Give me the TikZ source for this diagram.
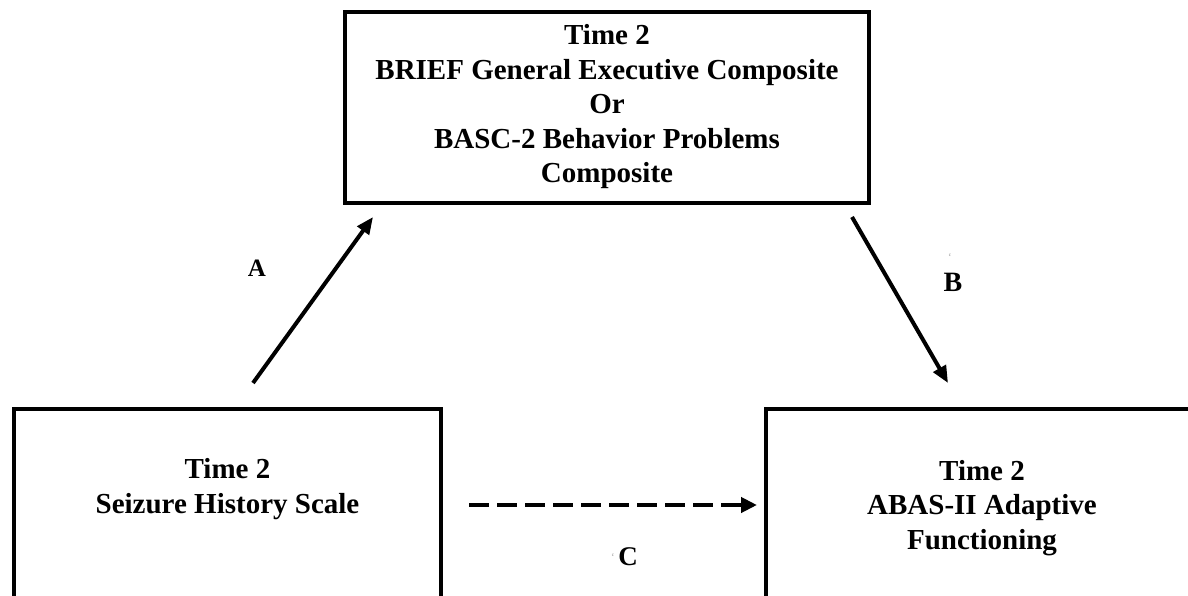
\documentclass[tikz,border=0pt]{standalone}
\usepackage{fontspec}
\setmainfont{Liberation Serif}
\usetikzlibrary{arrows.meta}
\begin{document}
\begin{tikzpicture}[x=1pt,y=-1pt,
  box/.style={draw, line width=4pt, inner sep=0pt},
  boxtext/.style={align=center, inner sep=0pt, font=\fontsize{29}{34.5}\selectfont\bfseries},
  arr/.style={line width=4pt, -{Triangle[length=17pt,width=14pt]}},
  dasharr/.style={line width=4.5pt, dash pattern=on 20pt off 8pt, -{Triangle[length=16pt,width=15pt]}},
  lbl/.style={inner sep=0pt},
  speck/.style={inner sep=0pt, text=gray, font=\fontsize{5}{5}\selectfont}]
\useasboundingbox (0,0) rectangle (1188,596);
\clip (0,0) rectangle (1188,596);
% boxes
\node[box, minimum width=524pt, minimum height=191pt] (top) at (607,107.5) {};
\node[boxtext] (toptext) at (607,107) {Time 2\\BRIEF General Executive Composite\\Or\\BASC-2 Behavior Problems\\Composite};
\node[box, minimum width=427pt, minimum height=240pt] (left) at (227.5,529) {};
\node[boxtext] (lefttext) at (227.5,489) {Time 2\\Seizure History Scale};
\node[box, minimum width=432pt, minimum height=240pt] (right) at (982,529) {};
\node[boxtext] (righttext) at (982,508) {Time 2\\ABAS-II Adaptive\\Functioning};
% connector end points
\coordinate (a0) at (253,383);
\coordinate (a1) at (373,217);
\coordinate (b0) at (852,217);
\coordinate (b1) at (948,383);
\coordinate (c0) at (469,505);
\coordinate (c1) at (757,505);
\draw[arr] (a0) -- (a1);
\draw[arr] (b0) -- (b1);
\draw[dasharr] (c0) -- (c1);
% labels
\node[lbl, font=\fontsize{25}{25}\selectfont\bfseries] (la) at (257,268) {A};
\node[lbl, font=\fontsize{28}{28}\selectfont\bfseries] (lb) at (953,282) {B};
\node[lbl, font=\fontsize{27}{27}\selectfont\bfseries] (lc) at (628,557) {C};
\node[speck] (sb) at (950,255) {c};
\node[speck] (sc) at (613,555) {c};
\end{tikzpicture}
\end{document}
